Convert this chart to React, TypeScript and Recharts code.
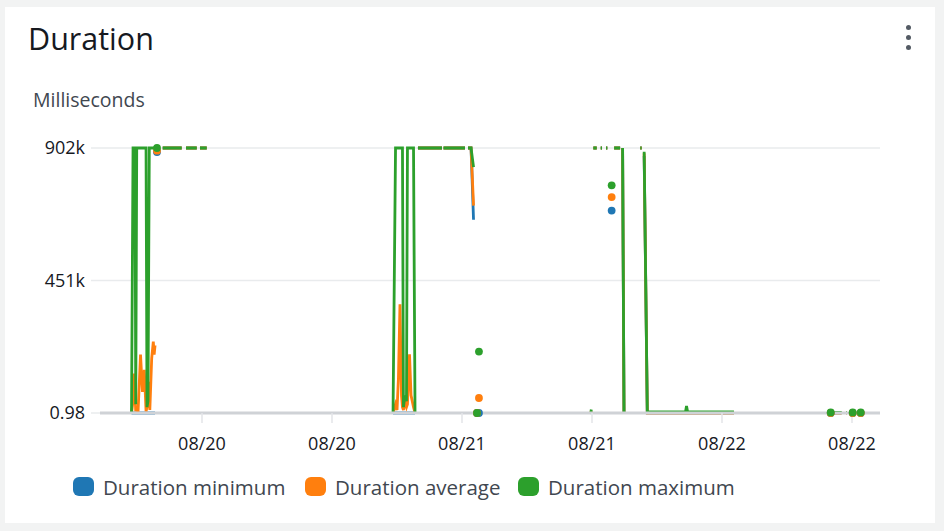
import React from 'react';
import { LineChart, Line, XAxis, YAxis, CartesianGrid } from 'recharts';

// hours since 08/19 14:35
const times = [
  2.91, 3.05, 3.14, 3.23, 3.30, 3.39, 3.51, 3.74, 3.92, 4.09, 4.25, 4.34, 4.43, 4.55, 4.60, 4.77, 4.92, 5.00, 5.08, 5.17,
  5.26, 5.50, 5.79, 7.54, 7.70, 7.94, 8.93, 9.10, 9.23, 9.85, 10.0,
  27.05, 27.28, 27.42, 27.55, 27.69, 27.83, 27.92, 28.01, 28.15, 28.29, 28.38, 28.57, 28.71, 28.94, 29.08, 29.30,
  29.35, 31.57, 31.65, 31.71, 33.69, 33.85, 33.97, 34.25, 34.48, 34.60, 34.80, 34.90, 34.98, 35.10,
  45.31, 45.35, 45.45, 45.54, 45.85, 45.95, 46.22, 46.34, 46.45, 46.71, 46.83, 47.00, 47.23, 47.35, 47.46, 48.01, 48.12,
  48.24, 48.37, 48.50, 49.87, 50.00, 50.12, 50.23, 50.52, 54.05, 54.14, 54.24, 58.52, 58.70,
  67.45, 67.55, 67.66, 68.46, 68.60, 68.89, 68.95, 69.10, 69.48, 69.60, 70.22, 70.40,
];

const minVals: (number | null)[] = [
  0.98, 0.98, 0.98, 0.98, 0.98, 0.98, 0.98, 0.98, 0.98, 0.98, 0.98, 0.98, 0.98, 0.98, 0.98, 0.98, 0.98, 0.98, 0.98, null,
  888000, null, 902000, 902000, null, 902000, 902000, null, 902000, 902000, null,
  0.98, 0.98, 0.98, 0.98, 0.98, 0.98, 0.98, 0.98, 0.98, 0.98, 0.98, 0.98, 0.98, 0.98, 0.98, null,
  902000, 902000, null, 902000, 902000, null, 902000, 902000, 658000, null, 0.98, null, 0.98, null,
  0.98, 0.98, null, 902000, 902000, null, 902000, 902000, null, 902000, 902000, null, 689000, null, 902000, 902000, null,
  902000, 0.98, null, 902000, 902000, null, 875000, 0.98, 0.98, 0.98, 0.98, 0.98, null,
  0.98, null, 0.98, 0.98, null, 0.98, 0.98, null, 0.98, null, 0.98, null,
];

const avgVals: (number | null)[] = [
  0.98, 40000, 134000, 60000, 5000, 20000, 0.98, 199000, 72000, 147000, 5000, 20000, 30000, 106000, 10000, 185000, 243000, 199000, 230000, null,
  893000, null, 902000, 902000, null, 902000, 902000, null, 902000, 902000, null,
  0.98, 30000, 10000, 120000, 370000, 60000, 20000, 10000, 40000, 20000, 30000, 200000, 60000, 20000, 0.98, null,
  902000, 902000, null, 902000, 902000, null, 902000, 902000, 706000, null, 0.98, null, 51000, null,
  0.98, 8000, null, 902000, 902000, null, 902000, 902000, null, 902000, 902000, null, 735000, null, 902000, 902000, null,
  902000, 0.98, null, 902000, 902000, null, 884000, 0.98, 0.98, 0.98, 0.98, 0.98, null,
  0.98, null, 0.98, 0.98, null, 0.98, 0.98, null, 0.98, null, 0.98, null,
];

const maxVals: (number | null)[] = [
  0.98, 902000, 902000, 902000, 30000, 902000, 902000, 902000, 902000, 902000, 902000, 20000, 40000, 902000, 902000, 902000, 902000, 902000, 902000, null,
  902000, null, 902000, 902000, null, 902000, 902000, null, 902000, 902000, null,
  0.98, 902000, 902000, 902000, 902000, 902000, 902000, 20000, 60000, 40000, 902000, 902000, 902000, 902000, 0.98, null,
  902000, 902000, null, 902000, 902000, null, 902000, 902000, 837000, null, 0.98, null, 209000, null,
  0.98, 12000, null, 902000, 902000, null, 902000, 902000, null, 902000, 902000, null, 775000, null, 902000, 902000, null,
  902000, 0.98, null, 902000, 902000, null, 889000, 4000, 4000, 24000, 4000, 4000, null,
  2000, null, 2000, 2000, null, 2000, 2000, null, 2000, null, 2000, null,
];

const xTicks = [9.415, 21.415, 33.415, 45.415, 57.415, 69.415];
const xTickLabels = ['08/20', '08/20', '08/21', '08/21', '08/22', '08/22'];
const yTicks = [0.98, 451000, 902000];
const yTickLabels = ['0.98', '451k', '902k'];

const seriesNames = ['Duration minimum', 'Duration average', 'Duration maximum'];
const seriesKeys = ['min', 'avg', 'max'];
const seriesColors = ['#1f77b4', '#ff7f0e', '#2ca02c'];

const rows = times.map((t, i) => ({ t, min: minVals[i], avg: avgVals[i], max: maxVals[i] }));

const FONT = '"Open Sans", "Noto Sans", sans-serif';

const makeDot = (key: string, color: string) => (props: any) => {
  const { cx, cy, index } = props;
  const k = `${key}-dot-${index}`;
  const cur = (rows[index] as any)?.[key];
  const prev = index > 0 ? (rows[index - 1] as any)[key] : null;
  const next = index < rows.length - 1 ? (rows[index + 1] as any)[key] : null;
  if (cur == null || cx == null || cy == null || prev != null || next != null) return <g key={k} />;
  return <circle key={k} cx={cx} cy={cy} r={3.9} fill={color} />;
};

export default function App() {
  return (
    <div style={{ position: 'absolute', left: 0, top: 0, width: 944, height: 531, background: '#f2f3f3', overflow: 'hidden', fontFamily: FONT }}>
      <div style={{ position: 'absolute', left: 5, top: 7, width: 930, height: 516, background: '#ffffff' }} />
      <div style={{ position: 'absolute', left: 28, top: 23, fontSize: 30.5, lineHeight: '30px', color: '#16191f', whiteSpace: 'nowrap' }}>Duration</div>
      <div style={{ position: 'absolute', left: 33, top: 90, fontSize: 19.5, lineHeight: '19.5px', color: '#414750', whiteSpace: 'nowrap' }}>Milliseconds</div>
      {[27, 37, 47].map((y) => (
        <div key={y} style={{ position: 'absolute', left: 905.5, top: y - 2.5, width: 5, height: 5, borderRadius: 3, background: '#545b64' }} />
      ))}
      <div style={{ position: 'absolute', left: 0, top: 0 }}>
        <LineChart width={944} height={531} data={rows} margin={{ top: 148, right: 64, bottom: 78, left: 0 }}>
          <CartesianGrid vertical={false} stroke="#e9ebed" strokeWidth={1.5} />
          <XAxis
            dataKey="t"
            type="number"
            domain={[0, 72]}
            ticks={xTicks}
            tickFormatter={(v: number) => xTickLabels[xTicks.indexOf(v)] ?? ''}
            axisLine={{ stroke: '#cfd2d6', strokeWidth: 3 }}
            tickLine={{ stroke: '#e3e5e8', strokeWidth: 1.5 }}
            tickSize={10}
            tickMargin={14}
            height={40}
            tick={{ fill: '#16191f', fontSize: 18, fontFamily: FONT }}
            interval={0}
          />
          <YAxis
            type="number"
            domain={[0.98, 902000]}
            ticks={yTicks}
            tickFormatter={(v: number) => yTickLabels[yTicks.indexOf(v)] ?? ''}
            axisLine={false}
            tickLine={{ stroke: '#e9ebed', strokeWidth: 1.5 }}
            tickSize={9}
            tickMargin={6}
            width={100}
            tick={{ fill: '#16191f', fontSize: 18, fontFamily: FONT }}
            interval={0}
          />
          {seriesKeys.map((k, i) => (
            <Line
              key={k}
              dataKey={k}
              type="linear"
              stroke={seriesColors[i]}
              strokeWidth={2.8}
              dot={makeDot(k, seriesColors[i])}
              activeDot={false}
              isAnimationActive={false}
              connectNulls={false}
            />
          ))}
        </LineChart>
      </div>
      {[73, 305, 518].map((x, i) => (
        <React.Fragment key={seriesKeys[i]}>
          <div style={{ position: 'absolute', left: x, top: 477, width: 21, height: 19, borderRadius: 6, background: seriesColors[i] }} />
          <div style={{ position: 'absolute', left: x + 30, top: 477, fontSize: 20.5, lineHeight: '20px', color: '#414750', whiteSpace: 'nowrap' }}>{seriesNames[i]}</div>
        </React.Fragment>
      ))}
    </div>
  );
}
